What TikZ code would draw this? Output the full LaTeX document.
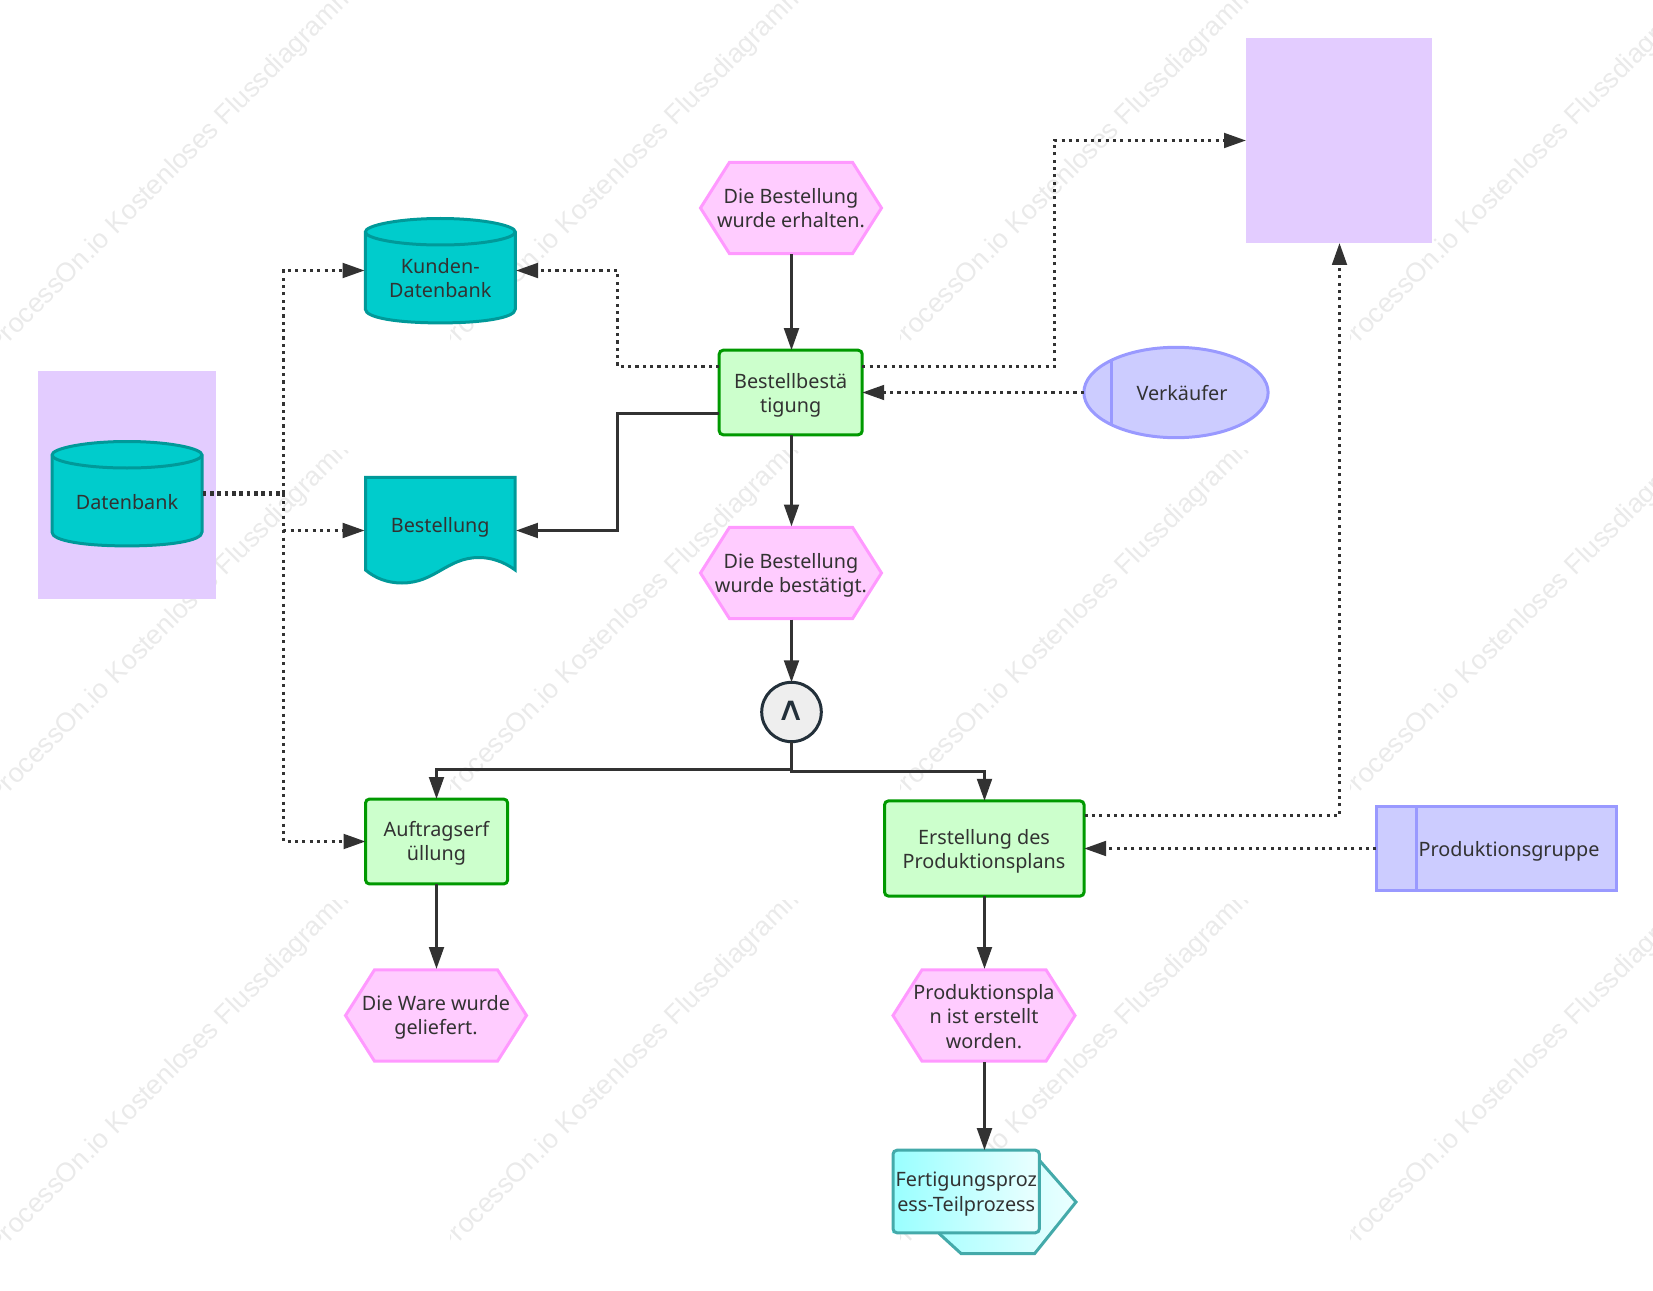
\documentclass[tikz,border=0pt]{standalone}
\usepackage{graphicx}
\usepackage{fontspec}
\setmainfont{Noto Sans}
\newfontfamily\wmfont{Liberation Sans}
\newfontfamily\symfont{DejaVu Sans}
\usetikzlibrary{arrows.meta,calc,shapes.geometric}
\definecolor{ink}{HTML}{323232}
\definecolor{lila}{HTML}{E3CCFF}
\definecolor{cyanfill}{HTML}{00CCCC}
\definecolor{cyanline}{HTML}{009999}
\definecolor{hexfill}{HTML}{FFCCFF}
\definecolor{hexline}{HTML}{FF99FF}
\definecolor{boxfill}{HTML}{CCFFCC}
\definecolor{boxline}{HTML}{009900}
\definecolor{rolefill}{HTML}{CCCCFF}
\definecolor{roleline}{HTML}{9999FF}
\definecolor{subline}{HTML}{44AAAA}
\definecolor{subleft}{HTML}{99FFFF}
\definecolor{subright}{HTML}{EBFFFF}
\definecolor{gatefill}{HTML}{EEEEEE}
\definecolor{gateline}{HTML}{23303A}
\definecolor{wmgray}{HTML}{EAEAEA}
\tikzset{
  txt/.style={text=ink,font=\fontsize{14.85}{18.2}\selectfont,align=center,inner sep=0pt,outer sep=0pt},
  lilabox/.style={fill=lila,draw=none,inner sep=0pt,outer sep=0pt},
  taskbox/.style={rectangle,draw=boxline,fill=boxfill,line width=2.25pt,rounded corners=3pt,inner sep=0pt,outer sep=0pt},
  rolebox/.style={rectangle,draw=roleline,fill=rolefill,line width=2.25pt,inner sep=0pt,outer sep=0pt},
  flow/.style={draw=ink,line width=2.2pt,-{Triangle[length=16.5pt,width=11pt]}},
  dotflow/.style={flow,dash pattern=on 2.3pt off 3.2pt},
  thickdots/.style={draw=ink,line width=3.2pt,dash pattern=on 2.8pt off 2.7pt},
  wm/.style={text=wmgray,font=\wmfont\fontsize{20.2}{22}\selectfont,rotate=45,anchor=base west,inner sep=0pt}
}
\newcommand{\hexa}[6]{% name, cx, cy, half width, text y offset, text
  \begin{scope}[shift={(#2,#3)}]
    \filldraw[fill=hexfill,draw=hexline,line width=2.25pt,line join=miter]
      (-#4-0.5,0) -- (-#4+28.5,-45.7) -- (#4-29.5,-45.7) -- (#4-0.5,0) -- (#4-29.5,45.7) -- (-#4+28.5,45.7) -- cycle;
    \node[minimum width=2*#4*0.75pt,minimum height=69.75pt,inner sep=0pt,outer sep=0pt] (#1) at (0,0) {};
    \node[txt] (#1text) at (-0.5,#5) {#6};
  \end{scope}}
\newcommand{\cyl}[3]{% name, cx, cy
  \begin{scope}[shift={(#2,#3)}]
    \filldraw[fill=cyanfill,draw=cyanline,line width=2.25pt]
      (-75,-38.6) .. controls (-75,-45) and (-42,-52) .. (0,-52)
      .. controls (42,-52) and (75,-45) .. (75,-38.6)
      -- (75,38.6) .. controls (75,47.5) and (42,52.4) .. (0,52.4)
      .. controls (-42,52.4) and (-75,47.5) .. (-75,38.6) -- cycle;
    \draw[draw=cyanline,line width=2.25pt]
      (-75,-38.6) .. controls (-75,-32) and (-42,-25.5) .. (0,-25.5)
      .. controls (42,-25.5) and (75,-32) .. (75,-38.6);
    \node[minimum width=113.55pt,minimum height=79.8pt,inner sep=0pt,outer sep=0pt] (#1) at (0,0) {};
  \end{scope}}
\begin{document}
\begin{tikzpicture}[x=0.75pt,y=-0.75pt]
\useasboundingbox (0,0) rectangle (1653,1291);
% watermarks
\foreach \tx in {0,450,900,1350}{
  \foreach \ty in {0,450,900}{
    \begin{scope}
      \clip (\tx,\ty) rectangle ++(349,343);
      \node[wm] (wm\tx x\ty) at (\tx-3,\ty+355) {ProcessOn.io Kostenloses Flussdiagramm};
    \end{scope}
  }
}
% purple backgrounds
\node[lilabox,minimum width=133.5pt,minimum height=171pt] (lilaL) at (127,485) {};
\node[lilabox,minimum width=139.5pt,minimum height=153.75pt] (lilaT) at (1339,140.5) {};
\coordinate (lilaS) at (1339.5,243);

% data stores
\cyl{kd}{440.3}{270.5}
\node[txt] (kdtext) at (440.3,278) {Kunden-\\Datenbank};
\cyl{db}{127}{493.5}
\node[txt] (dbtext) at (127,501.7) {Datenbank};
\filldraw[fill=cyanfill,draw=cyanline,line width=2.25pt]
  (365.5,477.4) -- (515.2,477.4) -- (515.2,570) .. controls (503,561) and (490,557.5) .. (479,557.5)
  .. controls (447,557.5) and (435,583) .. (402,583) .. controls (387,583) and (375,578) .. (365.5,570) -- cycle;
\node[minimum width=113.5pt,minimum height=80pt,inner sep=0pt,outer sep=0pt] (doc) at (440.3,530.5) {};
\node[txt] (doctext) at (440.3,527) {Bestellung};

% events
\hexa{h1}{791.5}{208}{90.5}{0}{Die Bestellung\\wurde erhalten.}
\hexa{h2}{791.5}{573}{90.5}{2}{Die Bestellung\\wurde bestätigt.}
\hexa{h3}{436.5}{1015.5}{90.5}{2}{Die Ware wurde\\geliefert.}
\hexa{h4}{984.5}{1015.5}{91}{1}{Produktionspla\\n ist erstellt\\worden.}

% tasks
\node[taskbox,minimum width=107.3pt,minimum height=63.4pt] (t1) at (790.7,392.5) {};
\node[txt] (t1text) at (790.7,395.6) {Bestellbestä\\tigung};
\node[taskbox,minimum width=106.6pt,minimum height=63.7pt] (t2) at (436.6,841.5) {};
\node[txt] (t2text) at (436.5,843.4) {Auftragserf\\üllung};
\node[taskbox,minimum width=149.7pt,minimum height=71.4pt] (t3) at (984.3,848.5) {};
\node[txt] (t3text) at (984,851.4) {Erstellung des\\Produktionsplans};

% gate
\node[ellipse,draw=gateline,fill=gatefill,line width=2.25pt,minimum width=44.7pt,minimum height=44.5pt,inner sep=0pt,outer sep=0pt] (gate) at (791.5,712) {};
\node[text=gateline,inner sep=0pt,font=\symfont\fontsize{25}{26}\selectfont] (gatesym) at (791.5,711) {\scalebox{1.2}[1]{∧}};

% roles
\node[ellipse,draw=roleline,fill=rolefill,line width=2.25pt,minimum width=138.2pt,minimum height=67.8pt,inner sep=0pt,outer sep=0pt] (vk) at (1176,392.5) {};
\coordinate (vkA) at (1111.4,359);
\coordinate (vkB) at (1111.4,425);
\draw[draw=roleline,line width=2.25pt] (vkA) -- (vkB);
\node[txt] (vktext) at (1182,392.6) {Verkäufer};
\node[rolebox,minimum width=179.8pt,minimum height=62.6pt] (pg) at (1496.2,848.5) {};
\coordinate (pgA) at (1416,806);
\coordinate (pgB) at (1416,891);
\draw[draw=roleline,line width=2.25pt] (pgA) -- (pgB);
\node[txt] (pgtext) at (1509,851) {Produktionsgruppe};

% subprocess
\coordinate (spA) at (1040,1161);
\coordinate (spB) at (1076,1202);
\coordinate (spC) at (1034.7,1253.5);
\coordinate (spD) at (961,1253.5);
\coordinate (spE) at (939,1233.4);
\shade[left color=subleft,right color=subright] (892.5,1161) -- (spA) -- (spB) -- (spC) -- (spD) -- (spE) -- (892.5,1233.4) -- cycle;
\draw[draw=subline,line width=2.25pt] (spA) -- (spB) -- (spC) -- (spD) -- (spE);
\node[rectangle,draw=subline,line width=2.25pt,rounded corners=3pt,left color=subleft,right color=subright,minimum width=109.8pt,minimum height=61.9pt,inner sep=0pt,outer sep=0pt] (sp) at (966.2,1191.5) {};
\node[txt] (sptext) at (966.2,1194) {Fertigungsproz\\ess-Teilprozess};

% solid connectors
\draw[flow] (h1.south) -- (t1.north -| h1.south);
\draw[flow] (t1.south -| h1.south) -- (h2.north);
\draw[flow] (h2.south) -- (gate.north -| h2.south);
\coordinate (tLa) at ($(t1.west)+(0,21)$);
\coordinate (tLb) at (617.5,530.5);
\draw[flow] (tLa) -| (tLb) -- (doc.east);
\coordinate (gL) at (436.5,769.5);
\coordinate (gLm) at (791.5,769.5);
\coordinate (gR) at (984.5,771.5);
\coordinate (gRm) at (791.5,771.5);
\draw[flow] (gate.south) -- (gLm) -- (gL) -- (t2.north -| gL);
\draw[flow] (gate.south) -- (gRm) -- (gR) -- (t3.north -| gR);
\draw[flow] (t2.south -| h3.north) -- (h3.north);
\draw[flow] (t3.south -| h4.north) -- (h4.north);
\draw[flow] (h4.south) -- (sp.north -| h4.south);

% dotted connectors
\coordinate (dbJ) at (283.5,493.5);
\draw[thickdots] (db.east) -- (dbJ);
\draw[dotflow] (dbJ) |- (kd.west);
\draw[dotflow] (dbJ) |- (doc.west);
\draw[dotflow] (dbJ) |- (t2.west);
\coordinate (t1NW) at ($(t1.west)+(0,-26)$);
\coordinate (t1NE) at ($(t1.east)+(0,-26)$);
\coordinate (kdBend) at (617.5,270.5);
\draw[dotflow] (t1NW) -| (kdBend) -- (kd.east);
\coordinate (tBend) at (1054.5,140.5);
\draw[dotflow] (t1NE) -| (tBend) -- (lilaT.west);
\draw[dotflow] (vk.west) -- (t1.east);
\draw[dotflow] (pg.west) -- (t3.east);
\coordinate (t3NE) at (1084.6,815.5);
\draw[dotflow] (t3NE) -| (lilaS);
\end{tikzpicture}
\end{document}
